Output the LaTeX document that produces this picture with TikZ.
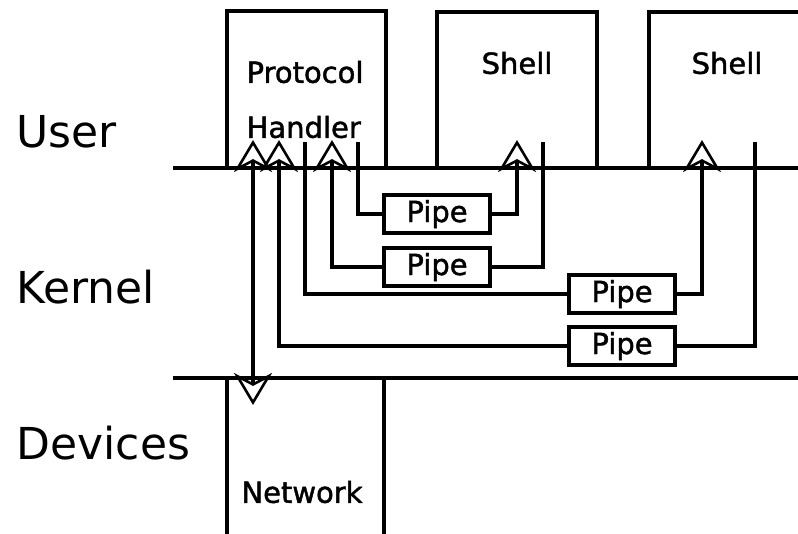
\documentclass[tikz,border=0pt]{standalone}
\usepackage{fontspec}
\setmainfont{DejaVu Sans}
\newfontfamily\boxfont[FakeBold=1.5]{DejaVu Sans}
\usetikzlibrary{arrows.meta}
\begin{document}
\begin{tikzpicture}[x=1pt,y=-1pt,
  line width=3.2pt,
  boxtext/.style={font=\boxfont\fontsize{29}{35}\selectfont, inner sep=0pt},
  layer/.style={font=\fontsize{44}{52}\selectfont, anchor=west, inner sep=0pt},
  pipebox/.style={draw, minimum width=106pt, minimum height=38pt, inner sep=0pt, font=\boxfont\fontsize{29}{35}\selectfont},
  tip/.tip={Stealth[open, length=32pt, width=38pt, inset=10pt, line width=2.6pt]},
  arr/.style={-tip},
  darr/.style={tip-tip}
]
\useasboundingbox (0,0) rectangle (798,533);
\clip (0,0) rectangle (798,533);
\fill[white] (0,0) rectangle (798,533);

% layer lines
\coordinate (u1) at (173,168);
\coordinate (u2) at (800,168);
\coordinate (d1) at (173,378);
\coordinate (d2) at (800,378);
\draw (u1) -- (u2);
\draw (d1) -- (d2);

% layer labels
\node[layer] (user) at (15,132) {User};
\node[layer] (kernel) at (15,287) {Kernel};
\node[layer] (devices) at (15,443) {Devices};

% boxes
\node[draw, minimum width=159pt, minimum height=157pt, inner sep=0pt] (ph) at (306.5,89.5) {};
\node[boxtext, anchor=west] (pht1) at (245,72) {Protocol};
\node[boxtext, anchor=west] (pht2) at (245,127) {Handler};

\node[draw, minimum width=160pt, minimum height=156pt, inner sep=0pt] (sh1) at (517,90) {};
\node[boxtext] (sh1t) at (517,63) {Shell};

\node[draw, minimum width=170pt, minimum height=156pt, inner sep=0pt] (sh2) at (734,90) {};
\node[boxtext] (sh2t) at (727,63) {Shell};

\node[draw, minimum width=157pt, minimum height=170pt, inner sep=0pt] (net) at (305.5,463) {};
\node[boxtext] (nett) at (302,492) {Network};

% pipes
\node[pipebox] (p1) at (437,214) {Pipe};
\node[pipebox] (p2) at (437,267) {Pipe};
\node[pipebox] (p3) at (622,294) {Pipe};
\node[pipebox] (p4) at (622,346) {Pipe};

% endpoints
\coordinate (a1) at (253,140);
\coordinate (a1b) at (253,405);
\coordinate (a2) at (279,140);
\coordinate (a3) at (305,142);
\coordinate (a4) at (332,140);
\coordinate (a5) at (358,142);
\coordinate (s1a) at (517,140);
\coordinate (s1b) at (543,142);
\coordinate (s2a) at (702,140);
\coordinate (s2b) at (755,142);

% connectors
\draw[darr] (a1) -- (a1b);
\draw (a5) |- (p1.west);
\draw[arr] (p1.east) -| (s1a);
\draw[arr] (p2.west) -| (a4);
\draw (p2.east) -| (s1b);
\draw (a3) |- (p3.west);
\draw[arr] (p3.east) -| (s2a);
\draw[arr] (p4.west) -| (a2);
\draw (p4.east) -| (s2b);
\end{tikzpicture}
\end{document}
